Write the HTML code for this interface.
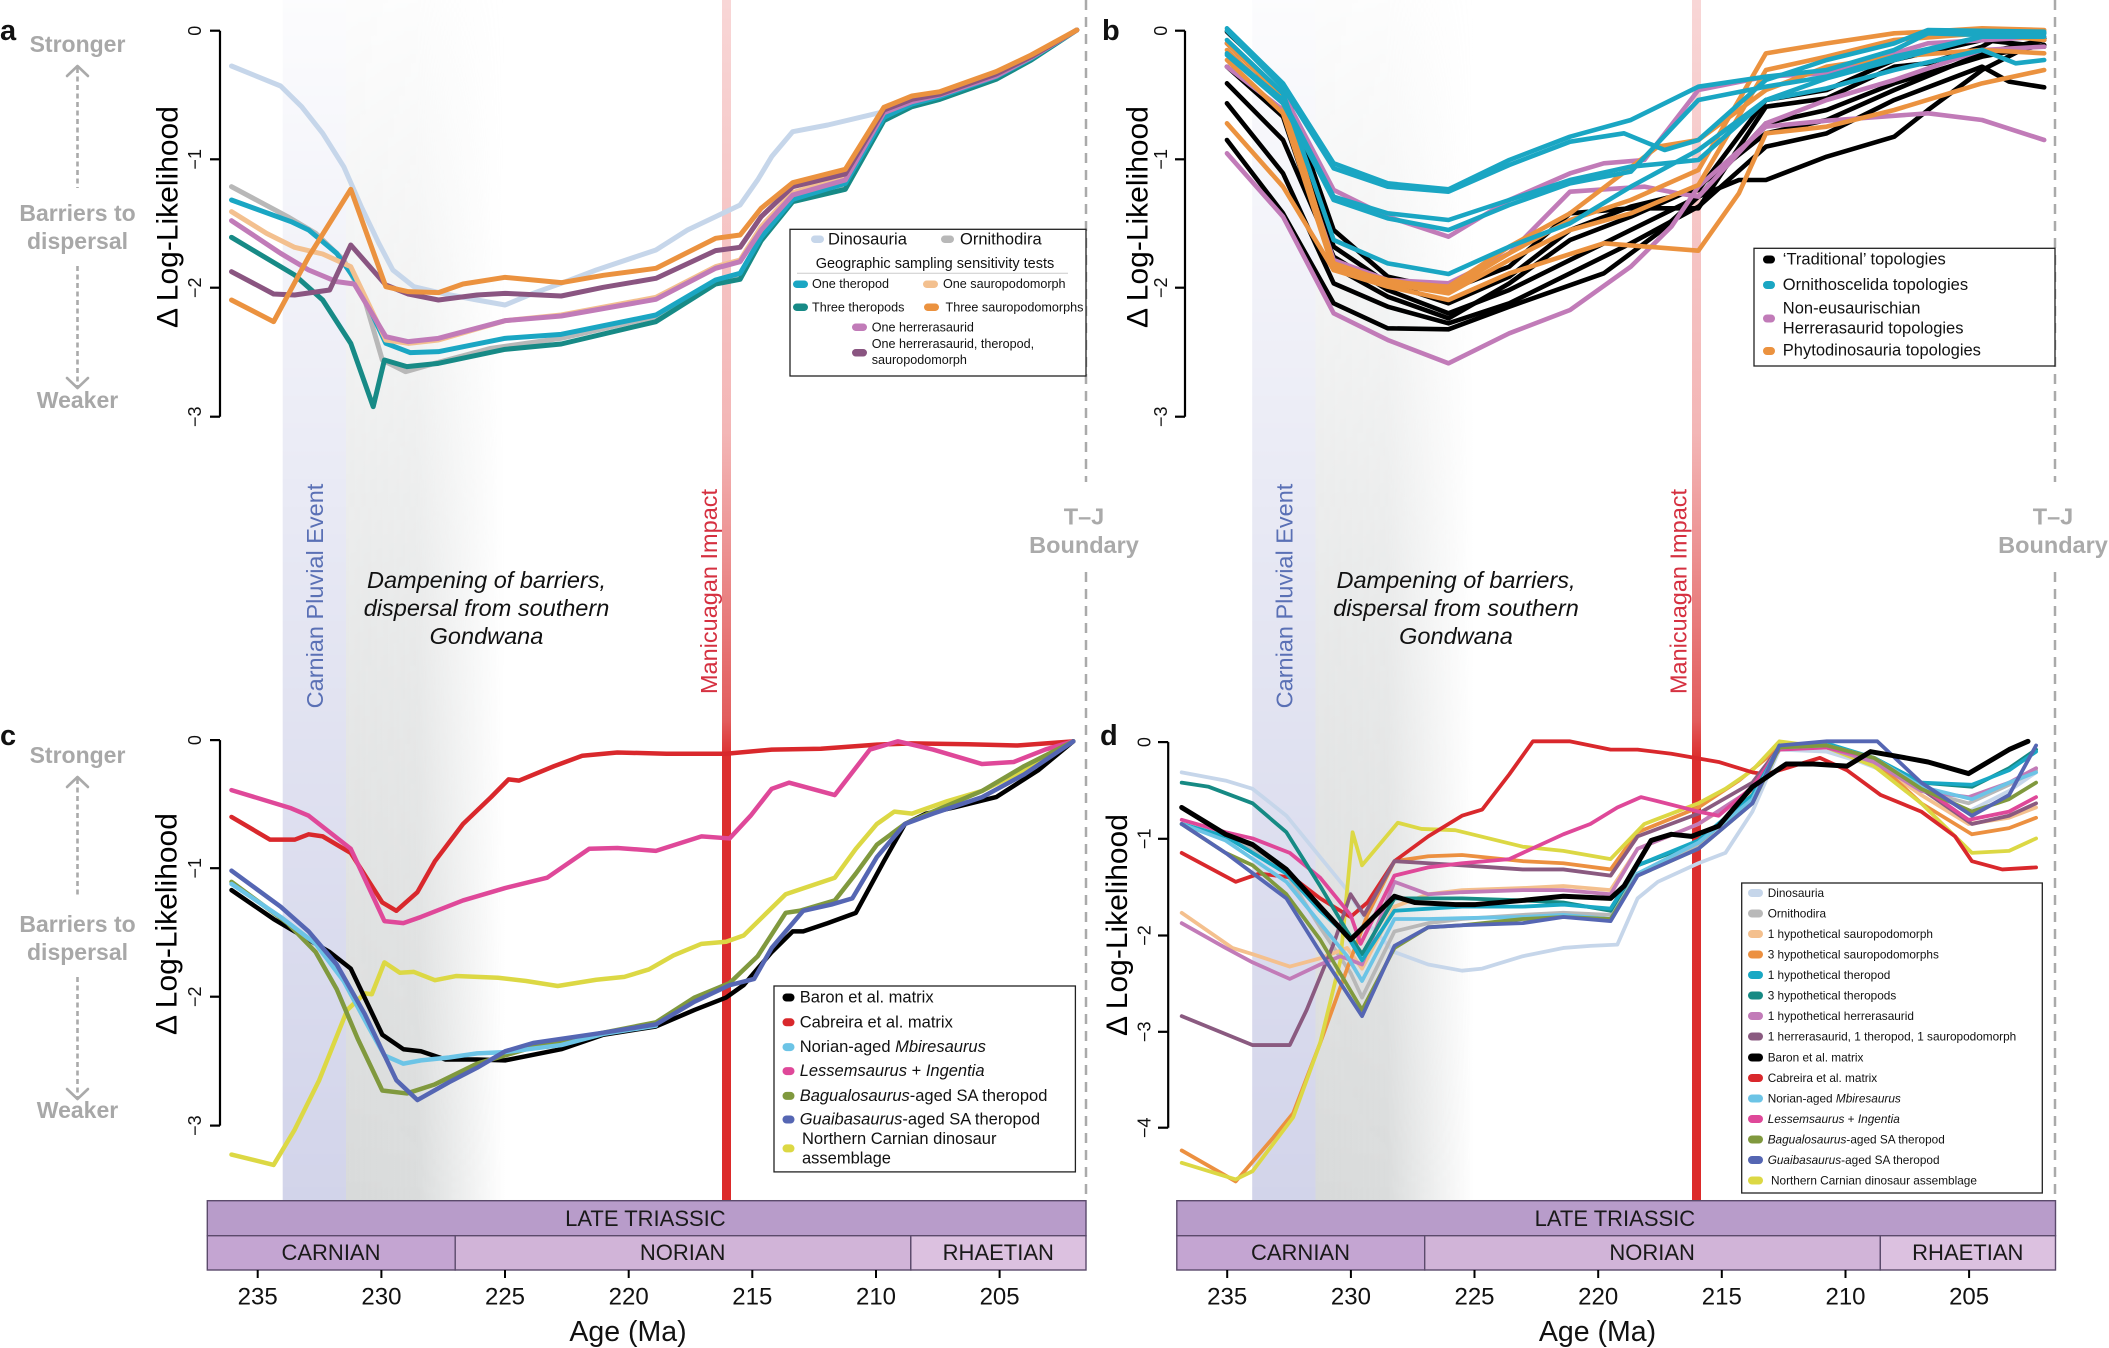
<!DOCTYPE html>
<html><head><meta charset="utf-8">
<style>
html,body{margin:0;padding:0;background:#fff;}
svg{display:block;}
polyline{fill:none;vector-effect:non-scaling-stroke;stroke-linejoin:round;stroke-linecap:round;}
text{font-family:"Liberation Sans",Arial,sans-serif;}
</style></head><body>
<svg width="2109" height="1348" viewBox="0 0 2109 1348" xmlns="http://www.w3.org/2000/svg">
<defs>
<linearGradient id="vfade" x1="0" y1="0" x2="0" y2="1201" gradientUnits="userSpaceOnUse">
<stop offset="0" stop-color="#fff" stop-opacity="0.07"/>
<stop offset="0.5" stop-color="#fff" stop-opacity="0.58"/>
<stop offset="1" stop-color="#fff" stop-opacity="1"/>
</linearGradient>
<mask id="bandmask" maskUnits="userSpaceOnUse" x="0" y="0" width="2109" height="1348">
<rect x="0" y="0" width="2109" height="1201" fill="url(#vfade)"/>
</mask>
<linearGradient id="greyL" x1="346" y1="0" x2="505" y2="0" gradientUnits="userSpaceOnUse">
<stop offset="0" stop-color="#d8dada" stop-opacity="1"/>
<stop offset="0.45" stop-color="#d8dada" stop-opacity="0.95"/>
<stop offset="1" stop-color="#d8dada" stop-opacity="0"/>
</linearGradient>
<linearGradient id="greyR" x1="1315.5" y1="0" x2="1474.5" y2="0" gradientUnits="userSpaceOnUse">
<stop offset="0" stop-color="#d8dada" stop-opacity="1"/>
<stop offset="0.45" stop-color="#d8dada" stop-opacity="0.95"/>
<stop offset="1" stop-color="#d8dada" stop-opacity="0"/>
</linearGradient>
<linearGradient id="redg" x1="0" y1="0" x2="0" y2="1201" gradientUnits="userSpaceOnUse">
<stop offset="0" stop-color="#f8d6d6"/>
<stop offset="0.36" stop-color="#f3b6b6"/>
<stop offset="0.6" stop-color="#e25c5c"/>
<stop offset="0.63" stop-color="#dc2f2f"/>
<stop offset="1" stop-color="#dc2a2a"/>
</linearGradient>
</defs>

<!-- background bands -->
<g mask="url(#bandmask)">
<rect x="282.7" y="0" width="63.3" height="1201" fill="#d2d4ea"/>
<rect x="346" y="0" width="159" height="1201" fill="url(#greyL)"/>
<rect x="1252.2" y="0" width="63.3" height="1201" fill="#d2d4ea"/>
<rect x="1315.5" y="0" width="159" height="1201" fill="url(#greyR)"/>
</g>

<!-- Manicouagan lines -->
<rect x="722" y="0" width="9" height="1201" fill="url(#redg)"/>
<rect x="1692" y="0" width="9" height="1201" fill="url(#redg)"/>

<!-- T-J dashed lines -->
<g stroke="#aaaaaa" stroke-width="2.5" stroke-dasharray="10 7" fill="none">
<line x1="1086" y1="0" x2="1086" y2="482"/>
<line x1="1086" y1="572" x2="1086" y2="1200"/>
<line x1="2055" y1="0" x2="2055" y2="482"/>
<line x1="2055" y1="572" x2="2055" y2="1200"/>
</g>

<!-- middle texts -->
<text transform="translate(315,596) rotate(-90)" text-anchor="middle" dominant-baseline="central" font-size="23.5" fill="#5a70b5">Carnian Pluvial Event</text>
<text transform="translate(1284.5,596) rotate(-90)" text-anchor="middle" dominant-baseline="central" font-size="23.5" fill="#5a70b5">Carnian Pluvial Event</text>
<text transform="translate(709,591.5) rotate(-90)" text-anchor="middle" dominant-baseline="central" font-size="23.5" fill="#d53040">Manicuagan Impact</text>
<text transform="translate(1678.5,591.5) rotate(-90)" text-anchor="middle" dominant-baseline="central" font-size="23.5" fill="#d53040">Manicuagan Impact</text>
<g font-style="italic" font-size="23.5" fill="#111" text-anchor="middle" dominant-baseline="central">
<text x="486.5" y="580">Dampening of barriers,</text>
<text x="486.5" y="608">dispersal from southern</text>
<text x="486.5" y="636">Gondwana</text>
<text x="1456" y="580">Dampening of barriers,</text>
<text x="1456" y="608">dispersal from southern</text>
<text x="1456" y="636">Gondwana</text>
</g>
<g font-weight="bold" font-size="23.5" fill="#aaaaaa" text-anchor="middle" dominant-baseline="central">
<text x="1084" y="516.7">T–J</text>
<text x="1084" y="545">Boundary</text>
<text x="2053" y="516.7">T–J</text>
<text x="2053" y="545">Boundary</text>
</g>

<!-- Panel letters -->
<g font-weight="bold" font-size="29" fill="#111">
<text x="0" y="40">a</text>
<text x="1102" y="40">b</text>
<text x="0" y="745">c</text>
<text x="1100" y="745">d</text>
</g>

<!-- Stronger / Weaker annotations -->
<g font-weight="bold" font-size="23" fill="#a8a8a8" text-anchor="middle" dominant-baseline="central">
<text x="77.5" y="44">Stronger</text>
<text x="77.5" y="213">Barriers to</text>
<text x="77.5" y="241">dispersal</text>
<text x="77.5" y="400">Weaker</text>
<text x="77.5" y="755">Stronger</text>
<text x="77.5" y="924">Barriers to</text>
<text x="77.5" y="952">dispersal</text>
<text x="77.5" y="1110">Weaker</text>
</g>
<g stroke="#aaaaaa" stroke-width="2.6" fill="none">
<line x1="77.5" y1="68" x2="77.5" y2="188" stroke-dasharray="5 3.5"/>
<line x1="77.5" y1="266" x2="77.5" y2="388" stroke-dasharray="5 3.5"/>
<polyline points="67,76 77.5,66 88,76" style="vector-effect:none"/>
<polyline points="67,378 77.5,388 88,378" style="vector-effect:none"/>
<line x1="77.5" y1="779" x2="77.5" y2="898" stroke-dasharray="5 3.5"/>
<line x1="77.5" y1="977" x2="77.5" y2="1098" stroke-dasharray="5 3.5"/>
<polyline points="67,787 77.5,777 88,787" style="vector-effect:none"/>
<polyline points="67,1089 77.5,1099 88,1089" style="vector-effect:none"/>
</g>

<!-- Axes -->
<g stroke="#000" stroke-width="2.2" fill="none">
<!-- a -->
<line x1="220" y1="30.7" x2="220" y2="416.7"/>
<line x1="210" y1="30.7" x2="220" y2="30.7"/><line x1="210" y1="159.3" x2="220" y2="159.3"/><line x1="210" y1="287.7" x2="220" y2="287.7"/><line x1="210" y1="416.7" x2="220" y2="416.7"/>
<!-- b -->
<line x1="1185" y1="30.7" x2="1185" y2="416.7"/>
<line x1="1175" y1="30.7" x2="1185" y2="30.7"/><line x1="1175" y1="159.3" x2="1185" y2="159.3"/><line x1="1175" y1="287.7" x2="1185" y2="287.7"/><line x1="1175" y1="416.7" x2="1185" y2="416.7"/>
<!-- c -->
<line x1="220" y1="740.1" x2="220" y2="1125.6"/>
<line x1="210" y1="740.1" x2="220" y2="740.1"/><line x1="210" y1="868.2" x2="220" y2="868.2"/><line x1="210" y1="996.7" x2="220" y2="996.7"/><line x1="210" y1="1125.6" x2="220" y2="1125.6"/>
<!-- d -->
<line x1="1168.2" y1="742.1" x2="1168.2" y2="1127.7"/>
<line x1="1158" y1="742.1" x2="1168.2" y2="742.1"/><line x1="1158" y1="838.8" x2="1168.2" y2="838.8"/><line x1="1158" y1="935.5" x2="1168.2" y2="935.5"/><line x1="1158" y1="1031.8" x2="1168.2" y2="1031.8"/><line x1="1158" y1="1127.7" x2="1168.2" y2="1127.7"/>
</g>
<g font-size="18" fill="#111" text-anchor="middle" dominant-baseline="central">
<text transform="translate(195,30.7) rotate(-90)">0</text>
<text transform="translate(195,159.3) rotate(-90)">−1</text>
<text transform="translate(195,287.7) rotate(-90)">−2</text>
<text transform="translate(195,416.7) rotate(-90)">−3</text>
<text transform="translate(1161,30.7) rotate(-90)">0</text>
<text transform="translate(1161,159.3) rotate(-90)">−1</text>
<text transform="translate(1161,287.7) rotate(-90)">−2</text>
<text transform="translate(1161,416.7) rotate(-90)">−3</text>
<text transform="translate(195,740.1) rotate(-90)">0</text>
<text transform="translate(195,868.2) rotate(-90)">−1</text>
<text transform="translate(195,996.7) rotate(-90)">−2</text>
<text transform="translate(195,1125.6) rotate(-90)">−3</text>
<text transform="translate(1144.6,742.1) rotate(-90)">0</text>
<text transform="translate(1144.6,838.8) rotate(-90)">−1</text>
<text transform="translate(1144.6,935.5) rotate(-90)">−2</text>
<text transform="translate(1144.6,1031.8) rotate(-90)">−3</text>
<text transform="translate(1144.6,1127.7) rotate(-90)">−4</text>
</g>
<g font-size="30" fill="#000" text-anchor="middle" dominant-baseline="central">
<text transform="translate(168,217) rotate(-90)">Δ Log-Likelihood</text>
<text transform="translate(1138,217) rotate(-90)">Δ Log-Likelihood</text>
<text transform="translate(167,924) rotate(-90)">Δ Log-Likelihood</text>
<text transform="translate(1117.5,925) rotate(-90)">Δ Log-Likelihood</text>
</g>

<!-- Panel a lines -->
<g transform="scale(0.70151,0.33333)" stroke-width="5">
<polyline stroke="#c6d6ea" points="330,198 400,258 430,320 460,400 490,500 515,620 540,730 560,810 590,860 630,880 680,900 720,915 760,880 800,850 850,810 935,750 980,690 1030,640 1055,615 1080,540 1100,470 1130,395 1180,375 1230,350 1260,335 1300,305 1340,280 1420,225 1470,170 1535,90"/>
<polyline stroke="#b8b8b8" points="330,560 410,650 450,700 490,780 520,900 545,1080 578,1115 620,1090 700,1045 800,1015 935,950 1020,845 1055,825 1085,715 1130,600 1205,555 1260,355 1300,315 1340,290 1420,232 1470,175 1535,90"/>
<polyline stroke="#178a86" points="330,712 420,825 460,900 500,1030 532,1220 548,1080 580,1100 625,1090 720,1048 800,1032 935,965 1020,852 1055,838 1085,722 1130,605 1205,568 1260,362 1300,320 1340,298 1420,238 1470,180 1535,90"/>
<polyline stroke="#1aa6c3" points="330,600 415,665 440,690 480,760 510,850 550,1030 585,1058 625,1055 720,1015 800,1003 935,945 1020,840 1055,820 1085,712 1130,598 1205,550 1260,352 1300,312 1340,290 1420,230 1470,175 1535,90"/>
<polyline stroke="#f3c08f" points="330,635 380,700 420,742 460,762 500,800 550,1020 582,1030 625,1020 720,962 800,945 935,892 1020,800 1055,780 1085,680 1130,578 1205,530 1260,333 1300,300 1340,283 1420,225 1470,172 1535,90"/>
<polyline stroke="#c17bb8" points="330,662 400,760 440,810 480,845 505,852 550,1010 582,1025 625,1015 720,962 800,948 935,898 1020,805 1055,785 1085,690 1130,585 1205,540 1260,338 1300,305 1340,285 1420,228 1470,172 1535,90"/>
<polyline stroke="#8a5581" points="330,815 390,882 420,885 470,870 500,735 550,855 582,882 625,900 680,885 720,880 800,888 860,862 935,835 1020,752 1055,742 1085,650 1130,560 1205,522 1260,330 1300,298 1340,282 1420,222 1470,170 1535,90"/>
<polyline stroke="#eb923f" points="330,900 390,965 440,770 500,568 550,860 582,875 625,878 660,852 720,832 800,848 860,826 935,805 1020,715 1055,705 1085,625 1130,548 1205,508 1260,322 1300,288 1340,275 1420,215 1470,165 1535,90"/>
</g>

<!-- Legend a -->
<rect x="790" y="229.3" width="296" height="146.7" fill="#fff" stroke="#222" stroke-width="1.3"/>
<g>
<rect x="811" y="235.5" width="13" height="7.5" rx="3.7" fill="#c6d6ea"/>
<rect x="941" y="235.5" width="13" height="7.5" rx="3.7" fill="#b8b8b8"/>
<rect x="793" y="280.5" width="15" height="7.5" rx="3.7" fill="#1aa6c3"/>
<rect x="923" y="280.5" width="15" height="7.5" rx="3.7" fill="#f3c08f"/>
<rect x="793" y="303.5" width="15" height="7.5" rx="3.7" fill="#178a86"/>
<rect x="924" y="303.5" width="15" height="7.5" rx="3.7" fill="#eb923f"/>
<rect x="852" y="323.5" width="15" height="7.5" rx="3.7" fill="#c17bb8"/>
<rect x="852" y="349" width="15" height="7.5" rx="3.7" fill="#8a5581"/>
</g>
<line x1="797" y1="273.3" x2="1068" y2="273.3" stroke="#cccccc" stroke-width="1"/>
<g fill="#111" dominant-baseline="central">
<text x="828" y="239.5" font-size="16.5">Dinosauria</text>
<text x="960" y="239.5" font-size="16.5">Ornithodira</text>
<text x="935" y="264" font-size="14.5" text-anchor="middle">Geographic sampling sensitivity tests</text>
<g font-size="12.6">
<text x="812" y="284">One theropod</text>
<text x="943" y="284">One sauropodomorph</text>
<text x="812" y="307.3">Three theropods</text>
<text x="945.5" y="307.3">Three sauropodomorphs</text>
<text x="871.7" y="327.3">One herrerasaurid</text>
<text x="871.7" y="344">One herrerasaurid, theropod,</text>
<text x="871.7" y="360">sauropodomorph</text>
</g>
</g>

<!-- Panel b lines -->
<g transform="translate(1050,0) scale(0.67540,0.33333)" stroke-width="4.6">
<g stroke="#000">
<polyline points="262,95 345,255 420,690 500,830 590,870 680,800 770,640 860,625 960,625 1060,320 1150,295 1250,200 1300,190 1380,140 1420,95 1472,100"/>
<polyline points="262,250 345,420 420,770 500,870 590,940 680,870 770,780 860,690 960,590 1060,370 1150,330 1250,250 1380,170 1472,135"/>
<polyline points="262,310 345,520 420,850 500,920 590,970 680,910 770,820 860,730 960,620 1060,440 1150,400 1250,300 1380,200 1420,245 1472,262"/>
<polyline points="262,420 345,640 420,910 500,985 590,988 680,920 820,820 900,700 960,590 1020,540 1060,540 1150,470 1250,410 1300,330 1380,210 1472,115"/>
<polyline points="262,200 345,350 420,800 500,890 590,955 680,850 770,720 860,650 960,560 1060,400 1150,360 1250,270 1380,160 1472,120"/>
<polyline points="262,130 345,290 420,740 500,850 590,910 680,830 770,690 860,620 960,570 1060,300 1150,270 1250,180 1380,120 1472,140"/>
</g>
<g stroke="#c17bb8">
<polyline points="262,460 345,650 420,940 500,1020 590,1090 680,1000 770,930 860,800 920,680 960,560 1060,380 1150,362 1300,340 1380,360 1472,420"/>
<polyline points="262,200 345,330 420,780 500,840 590,850 680,760 770,575 880,560 930,580 960,590 1060,370 1150,300 1250,240 1380,150 1472,140"/>
<polyline points="262,130 345,280 420,570 500,650 590,710 680,600 770,520 820,490 880,480 960,270 1060,230 1150,220 1300,130 1472,110"/>
</g>
<g stroke="#eb923f">
<polyline points="262,130 345,290 420,800 500,840 590,870 680,760 770,660 860,600 960,510 1060,160 1150,130 1250,100 1300,95 1380,85 1472,90"/>
<polyline points="262,180 345,340 420,810 500,850 590,880 680,780 770,690 860,640 960,555 1060,210 1150,170 1250,120 1380,100 1472,120"/>
<polyline points="262,370 345,560 420,810 500,860 590,900 680,820 820,730 960,752 1020,580 1060,400 1150,380 1250,330 1380,250 1472,210"/>
<polyline points="262,150 345,310 420,790 500,845 590,860 680,740 770,640 900,440 960,420 1060,270 1150,200 1250,170 1380,150 1472,160"/>
</g>
<g stroke="#1aa6c3">
<polyline points="262,85 345,250 420,490 500,550 590,568 680,480 770,410 860,360 960,260 1060,230 1150,210 1250,150 1300,100 1380,105 1472,100"/>
<polyline points="262,92 345,262 420,505 500,560 590,575 680,495 770,425 850,400 910,450 960,420 1060,240 1150,180 1250,130 1300,90 1472,95"/>
<polyline points="262,160 345,300 420,590 500,640 590,660 680,600 770,540 860,500 960,480 1060,300 1150,265 1250,210 1380,150 1430,190 1472,180"/>
<polyline points="262,165 345,310 420,600 500,655 590,690 680,615 770,550 860,515 960,300 1060,260 1150,230 1250,170 1380,110 1472,110"/>
<polyline points="262,120 345,280 420,720 500,790 590,822 680,740 770,670 860,560 960,450 1060,300 1150,235 1250,180 1380,110 1472,100"/>
</g>
</g>

<!-- Legend b -->
<rect x="1754" y="248.3" width="301" height="117.7" fill="#fff" stroke="#222" stroke-width="1.3"/>
<rect x="1763" y="255.5" width="12" height="8" rx="4" fill="#000"/>
<rect x="1763" y="281" width="12" height="8" rx="4" fill="#1aa6c3"/>
<rect x="1763" y="314.5" width="12" height="8" rx="4" fill="#c17bb8"/>
<rect x="1763" y="347" width="12" height="8" rx="4" fill="#eb923f"/>
<g fill="#111" font-size="16.5" dominant-baseline="central">
<text x="1782.8" y="259.3">‘Traditional’ topologies</text>
<text x="1782.8" y="285">Ornithoscelida topologies</text>
<text x="1782.8" y="308.3">Non-eusaurischian</text>
<text x="1782.8" y="328.3">Herrerasaurid topologies</text>
<text x="1782.8" y="350.7">Phytodinosauria topologies</text>
</g>

<!-- Panel c lines -->
<g transform="translate(0,700) scale(0.70151,0.41326)" stroke-width="4.5">
<polyline stroke="#dcd844" points="330,1100 390,1125 420,1040 455,920 495,750 520,710 530,712 548,635 570,660 590,658 620,678 650,668 710,672 750,680 795,692 850,677 890,670 925,652 960,618 1000,590 1035,585 1060,570 1090,520 1120,470 1190,430 1220,360 1250,300 1275,270 1300,275 1350,245 1400,220 1460,170 1530,100"/>
<polyline stroke="#d9282c" points="330,283 385,338 420,338 440,325 460,330 500,370 545,490 565,510 595,465 620,390 660,300 700,235 725,192 740,195 790,160 830,135 880,127 950,130 1035,130 1100,120 1170,118 1250,108 1300,105 1380,107 1450,110 1530,100"/>
<polyline stroke="#df4899" points="330,218 415,262 440,280 500,360 548,535 575,540 600,525 660,485 720,455 780,430 840,360 880,358 935,365 1000,330 1040,335 1070,280 1100,215 1125,200 1190,230 1240,120 1280,100 1330,120 1400,155 1445,150 1490,120 1530,100"/>
<polyline stroke="#000" points="330,460 390,530 470,610 500,650 545,810 575,845 600,850 635,870 680,870 720,872 800,845 860,810 935,790 990,750 1035,720 1060,690 1100,610 1130,560 1145,560 1180,540 1220,515 1260,390 1290,300 1320,275 1360,260 1420,235 1480,170 1530,100"/>
<polyline stroke="#80993e" points="330,440 410,540 450,610 480,700 510,820 545,945 580,952 620,930 680,880 760,840 860,805 935,780 990,720 1040,685 1080,620 1120,515 1140,510 1190,485 1220,420 1250,350 1290,300 1330,270 1400,220 1460,160 1530,100"/>
<polyline stroke="#6cc4e6" points="330,445 400,525 450,590 490,680 525,790 548,860 575,880 600,872 640,865 680,855 720,852 800,835 860,808 935,788"/>
<polyline stroke="#5566b3" points="330,413 400,500 440,560 480,640 520,760 565,920 595,968 640,925 680,890 720,850 760,830 860,805 935,785 990,730 1040,690 1075,675 1100,600 1145,510 1185,495 1215,480 1250,380 1290,300 1330,275 1400,235 1460,180 1530,100"/>
</g>

<!-- Legend c -->
<rect x="774" y="986" width="301.4" height="185.9" fill="#fff" stroke="#222" stroke-width="1.3"/>
<g>
<rect x="782.5" y="993.5" width="12" height="8" rx="4" fill="#000"/>
<rect x="782.5" y="1018.3" width="12" height="8" rx="4" fill="#d9282c"/>
<rect x="782.5" y="1043.1" width="12" height="8" rx="4" fill="#6cc4e6"/>
<rect x="782.5" y="1067.1" width="12" height="8" rx="4" fill="#df4899"/>
<rect x="782.5" y="1091.9" width="12" height="8" rx="4" fill="#80993e"/>
<rect x="782.5" y="1115.5" width="12" height="8" rx="4" fill="#5566b3"/>
<rect x="782.5" y="1144.4" width="12" height="8" rx="4" fill="#dcd844"/>
</g>
<g fill="#111" font-size="16.5" dominant-baseline="central">
<text x="799.7" y="997.5">Baron et al. matrix</text>
<text x="799.7" y="1022.3">Cabreira et al. matrix</text>
<text x="799.7" y="1047.1">Norian-aged <tspan font-style="italic">Mbiresaurus</tspan></text>
<text x="799.7" y="1071.1"><tspan font-style="italic">Lessemsaurus</tspan> + <tspan font-style="italic">Ingentia</tspan></text>
<text x="799.7" y="1095.9"><tspan font-style="italic">Bagualosaurus</tspan>-aged SA theropod</text>
<text x="799.7" y="1119.5"><tspan font-style="italic">Guaibasaurus</tspan>-aged SA theropod</text>
<text x="802" y="1138.9">Northern Carnian dinosaur</text>
<text x="802" y="1158.7">assemblage</text>
</g>

<!-- Panel d lines -->
<g transform="translate(1050,700) scale(0.67540,0.41326)" stroke-width="3.8">
<polyline stroke="#c6d6ea" points="195,175 260,195 300,215 350,280 400,380 440,460 470,540 510,610 560,640 610,655 640,650 700,620 760,600 800,595 840,592 870,480 900,440 960,395 1000,370 1040,270 1080,120 1150,125 1200,150 1280,200 1360,270 1420,220 1460,175"/>
<polyline stroke="#b8b8b8" points="195,300 260,330 300,360 350,420 400,550 445,660 462,720 510,560 560,540 610,530 700,520 760,515 830,520 870,420 960,350 1040,230 1080,110 1150,110 1220,140 1290,220 1360,250 1420,205 1460,170"/>
<polyline stroke="#f4c08e" points="195,515 270,600 300,615 355,645 400,625 440,600 462,650 510,500 560,470 610,460 700,455 760,450 830,460 870,360 960,300 1040,220 1080,115 1150,115 1220,150 1290,230 1360,300 1420,285 1460,260"/>
<polyline stroke="#ec9040" points="195,1090 275,1165 330,1060 360,1000 400,830 440,650 470,520 510,390 560,378 610,375 700,390 760,395 830,410 870,320 960,260 1020,195 1080,115 1150,110 1220,145 1290,250 1365,325 1420,310 1460,285"/>
<polyline stroke="#dcd844" points="195,1120 275,1160 300,1140 360,1010 400,830 430,630 448,320 462,400 515,297 550,312 600,315 700,355 760,365 830,385 880,300 960,250 1000,215 1040,170 1080,100 1150,115 1220,160 1290,250 1365,370 1420,365 1460,335"/>
<polyline stroke="#d9282c" points="195,370 275,440 310,420 360,430 400,480 445,525 470,490 510,390 560,330 610,280 640,265 680,180 715,100 770,100 830,120 870,120 920,130 990,150 1040,175 1060,180 1090,165 1140,140 1180,170 1230,230 1290,270 1340,330 1365,390 1410,410 1460,405"/>
<polyline stroke="#8a5a80" points="195,765 300,835 355,835 380,750 420,590 445,470 465,520 510,390 560,395 610,400 700,410 760,410 830,425 870,330 960,275 1040,200 1080,115 1150,110 1220,150 1290,215 1365,300 1420,280 1460,250"/>
<polyline stroke="#c27bb8" points="195,540 260,600 300,635 355,675 400,640 430,620 462,640 510,440 560,470 610,465 700,460 760,460 830,470 870,360 960,300 1040,215 1080,115 1150,115 1220,150 1290,220 1360,235 1420,200 1460,165"/>
<polyline stroke="#df4899" points="195,290 260,320 300,335 355,370 400,430 445,520 460,590 510,425 560,405 610,395 680,385 760,325 800,300 840,260 875,235 900,245 960,270 990,280 1040,210 1080,120 1150,115 1220,140 1290,210 1360,290 1420,270 1460,235"/>
<polyline stroke="#168a84" points="195,200 235,210 300,250 350,320 400,450 440,560 462,615 510,480 560,480 610,480 700,485 760,490 830,510 870,400 960,345 1040,240 1080,110 1150,110 1220,140 1290,200 1365,210 1420,165 1460,120"/>
<polyline stroke="#19a8c4" points="195,300 260,330 350,420 400,510 440,570 462,630 510,510 560,505 610,500 700,500 760,495 830,505 870,400 960,340 1040,230 1080,115 1150,105 1220,140 1290,200 1365,205 1420,170 1460,125"/>
<polyline stroke="#6cc4e6" points="195,300 260,340 350,440 400,540 440,620 462,680 510,530 560,530 610,528 700,525 760,520 830,530 870,420 960,345 1040,240 1080,115 1150,110 1220,140 1290,210 1365,240 1420,200 1460,175"/>
<polyline stroke="#80993e" points="195,300 260,370 300,400 350,470 400,580 462,750 510,600 560,550 610,545 700,530 760,525 830,530 870,425 960,360 1040,250 1080,115 1150,110 1220,140 1290,215 1365,270 1420,240 1460,200"/>
<polyline stroke="#5566b3" points="195,300 260,370 350,480 400,610 462,765 510,595 560,550 610,545 700,540 760,525 830,535 870,425 960,360 1040,250 1080,110 1150,100 1225,100 1290,200 1365,280 1420,230 1460,110"/>
<polyline stroke="#000" stroke-width="5" points="195,260 260,325 300,350 350,410 400,500 445,580 470,540 510,475 540,490 600,495 630,495 700,485 760,475 830,480 850,450 890,340 920,325 950,330 990,305 1040,210 1090,155 1130,155 1180,160 1215,125 1250,135 1300,150 1360,178 1420,120 1448,100"/>
</g>

<!-- Legend d -->
<rect x="1741.7" y="883" width="300.6" height="310" fill="#fff" stroke="#222" stroke-width="1.3"/>
<g>
<rect x="1748" y="889" width="15" height="8" rx="4" fill="#c6d6ea"/>
<rect x="1748" y="909.5" width="15" height="8" rx="4" fill="#b9b9b9"/>
<rect x="1748" y="930" width="15" height="8" rx="4" fill="#f4c08e"/>
<rect x="1748" y="950.5" width="15" height="8" rx="4" fill="#ec9040"/>
<rect x="1748" y="971" width="15" height="8" rx="4" fill="#19a8c4"/>
<rect x="1748" y="991.5" width="15" height="8" rx="4" fill="#168a84"/>
<rect x="1748" y="1012" width="15" height="8" rx="4" fill="#c27bb8"/>
<rect x="1748" y="1032.5" width="15" height="8" rx="4" fill="#8a5a80"/>
<rect x="1748" y="1053.5" width="15" height="8" rx="4" fill="#000"/>
<rect x="1748" y="1074" width="15" height="8" rx="4" fill="#d9282c"/>
<rect x="1748" y="1094.5" width="15" height="8" rx="4" fill="#6cc4e6"/>
<rect x="1748" y="1115" width="15" height="8" rx="4" fill="#df4899"/>
<rect x="1748" y="1135.5" width="15" height="8" rx="4" fill="#80993e"/>
<rect x="1748" y="1156" width="15" height="8" rx="4" fill="#5566b3"/>
<rect x="1748" y="1176.5" width="15" height="8" rx="4" fill="#dcd844"/>
</g>
<g fill="#111" font-size="11.8" dominant-baseline="central">
<text x="1767.7" y="893">Dinosauria</text>
<text x="1767.7" y="913.5">Ornithodira</text>
<text x="1767.7" y="934">1 hypothetical sauropodomorph</text>
<text x="1767.7" y="954.5">3 hypothetical sauropodomorphs</text>
<text x="1767.7" y="975">1 hypothetical theropod</text>
<text x="1767.7" y="995.5">3 hypothetical theropods</text>
<text x="1767.7" y="1016">1 hypothetical herrerasaurid</text>
<text x="1767.7" y="1036.5">1 herrerasaurid, 1 theropod, 1 sauropodomorph</text>
<text x="1767.7" y="1057.5">Baron et al. matrix</text>
<text x="1767.7" y="1078">Cabreira et al. matrix</text>
<text x="1767.7" y="1098.5">Norian-aged <tspan font-style="italic">Mbiresaurus</tspan></text>
<text x="1767.7" y="1119"><tspan font-style="italic">Lessemsaurus</tspan> + <tspan font-style="italic">Ingentia</tspan></text>
<text x="1767.7" y="1139.5"><tspan font-style="italic">Bagualosaurus</tspan>-aged SA theropod</text>
<text x="1767.7" y="1160"><tspan font-style="italic">Guaibasaurus</tspan>-aged SA theropod</text>
<text x="1771" y="1180.5">Northern Carnian dinosaur assemblage</text>
</g>

<!-- Timescales -->
<g stroke="#5b4a6b" stroke-width="1.4">
<rect x="207.3" y="1200.7" width="878.7" height="35" fill="#b89cca"/>
<rect x="207.3" y="1235.7" width="247.9" height="34.3" fill="#c4a5d2"/>
<rect x="455.2" y="1235.7" width="455.6" height="34.3" fill="#d1b4d8"/>
<rect x="910.8" y="1235.7" width="175.2" height="34.3" fill="#dcc1e0"/>
<rect x="1176.8" y="1200.7" width="878.7" height="35" fill="#b89cca"/>
<rect x="1176.8" y="1235.7" width="247.9" height="34.3" fill="#c4a5d2"/>
<rect x="1424.7" y="1235.7" width="455.6" height="34.3" fill="#d1b4d8"/>
<rect x="1880.3" y="1235.7" width="175.2" height="34.3" fill="#dcc1e0"/>
</g>
<g fill="#1a1a1a" font-size="22" text-anchor="middle" dominant-baseline="central">
<text x="645.4" y="1218.5">LATE TRIASSIC</text>
<text x="331" y="1252.5">CARNIAN</text>
<text x="682.6" y="1252.5">NORIAN</text>
<text x="998.3" y="1252.5">RHAETIAN</text>
<text x="1614.9" y="1218.5">LATE TRIASSIC</text>
<text x="1300.5" y="1252.5">CARNIAN</text>
<text x="1652.1" y="1252.5">NORIAN</text>
<text x="1967.8" y="1252.5">RHAETIAN</text>
</g>
<g stroke="#000" stroke-width="2">
<line x1="257.7" y1="1270" x2="257.7" y2="1278"/>
<line x1="381.4" y1="1270" x2="381.4" y2="1278"/>
<line x1="505" y1="1270" x2="505" y2="1278"/>
<line x1="628.7" y1="1270" x2="628.7" y2="1278"/>
<line x1="752.3" y1="1270" x2="752.3" y2="1278"/>
<line x1="876" y1="1270" x2="876" y2="1278"/>
<line x1="999.6" y1="1270" x2="999.6" y2="1278"/>
<line x1="1227.2" y1="1270" x2="1227.2" y2="1278"/>
<line x1="1350.9" y1="1270" x2="1350.9" y2="1278"/>
<line x1="1474.5" y1="1270" x2="1474.5" y2="1278"/>
<line x1="1598.2" y1="1270" x2="1598.2" y2="1278"/>
<line x1="1721.8" y1="1270" x2="1721.8" y2="1278"/>
<line x1="1845.5" y1="1270" x2="1845.5" y2="1278"/>
<line x1="1969.1" y1="1270" x2="1969.1" y2="1278"/>
</g>
<g fill="#111" font-size="24" text-anchor="middle" dominant-baseline="central">
<text x="257.7" y="1297">235</text>
<text x="381.4" y="1297">230</text>
<text x="505" y="1297">225</text>
<text x="628.7" y="1297">220</text>
<text x="752.3" y="1297">215</text>
<text x="876" y="1297">210</text>
<text x="999.6" y="1297">205</text>
<text x="1227.2" y="1297">235</text>
<text x="1350.9" y="1297">230</text>
<text x="1474.5" y="1297">225</text>
<text x="1598.2" y="1297">220</text>
<text x="1721.8" y="1297">215</text>
<text x="1845.5" y="1297">210</text>
<text x="1969.1" y="1297">205</text>
</g>
<g fill="#111" font-size="28.5" text-anchor="middle" dominant-baseline="central">
<text x="628" y="1332">Age (Ma)</text>
<text x="1597.5" y="1332">Age (Ma)</text>
</g>
</svg>
</body></html>
